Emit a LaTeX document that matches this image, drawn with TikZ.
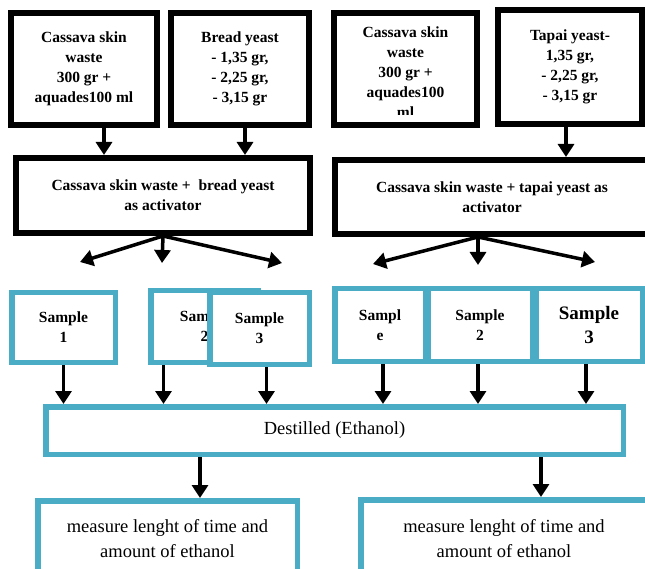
\documentclass[tikz,border=0pt]{standalone}
\usepackage{fontspec}
\setmainfont{Liberation Serif}
\usetikzlibrary{arrows.meta, positioning, calc}
\definecolor{samplecyan}{HTML}{4BACC6}

\begin{document}
\begin{tikzpicture}[
    x=1pt, y=-1pt,
    every node/.style={font=\fontsize{15.5}{20}\selectfont\bfseries},
    inputbox/.style={
        rectangle, 
        draw=black, 
        line width=6pt, 
        fill=white, 
        align=center, 
        inner sep=0pt
    },
    samplebox/.style={
        rectangle, 
        draw=samplecyan, 
        line width=5.5pt, 
        fill=white, 
        align=center, 
        inner sep=0pt, 
        minimum height=71.5pt
    },
    resultbox/.style={
        rectangle, 
        draw=samplecyan, 
        line width=5.5pt, 
        fill=white, 
        align=center, 
        inner sep=0pt, 
        font=\fontsize{18.5}{25}\selectfont
    },
    arrow/.style={
        line width=3.5pt,
        -{Triangle[length=13pt,width=16pt]}
    }
]

\useasboundingbox (0,0) rectangle (645,569);

% Inputs - bread yeast side
\node (cassL) [inputbox, minimum width=146pt, minimum height=112pt] at (84,69) {Cassava skin\\waste\\300 gr +\\aquades100 ml};
\node (yeastL) [inputbox, minimum width=138pt, minimum height=112pt] at (240,69) {Bread yeast\\- 1,35 gr,\\- 2,25 gr,\\- 3,15 gr};

% Inputs - tapai yeast side (text cut off at the bottom)
\node (cassR) [inputbox, minimum width=143pt, minimum height=112pt] at (405.5,69) {};
\begin{scope}
    \clip (cassR.center) ++(-70,-56) rectangle ++(140,102);
    \node (cassRtext) [align=center] at ($(cassR.center)+(0,3)$) {Cassava skin\\waste\\300 gr +\\aquades100\\ml};
\end{scope}
\node (yeastR) [inputbox, minimum width=144pt, minimum height=114pt] at (570,67) {Tapai yeast-\\1,35 gr,\\- 2,25 gr,\\- 3,15 gr};

% Mixtures
\node (mixL) [inputbox, minimum width=294pt, minimum height=75pt] at (163,195.5) {Cassava skin waste +\ \ bread yeast\\as activator};
\node (mixR) [inputbox, minimum width=314pt, minimum height=74pt] at (492,197) {Cassava skin waste + tapai yeast as\\activator};

% Split ends
\coordinate (spL1) at (80,262);
\coordinate (spL2) at (162,263);
\coordinate (spL3) at (282,263);
\coordinate (spR1) at (373,264);
\coordinate (spR2) at (478,265);
\coordinate (spR3) at (595,262);

% Samples - left
\node (smpL1) [samplebox, minimum width=103.5pt, minimum height=69.5pt] at (63.5,327.5) {Sample\\1};
\node (smpL2) [samplebox, minimum width=107.5pt] at (204.5,326.5) {Sample\\2};
\node (smpL3) [samplebox, minimum width=99.5pt] at (259.5,328.5) {Sample\\3};

% Samples - right
\node (smpR1) [samplebox, minimum width=90.5pt, minimum height=72.5pt] at (380,325) {Sampl\\e};
\node (smpR2) [samplebox, minimum width=104.5pt, minimum height=72.5pt] at (480,325) {Sample\\2};
\node (smpR3) [samplebox, minimum width=106.5pt, minimum height=72.5pt, font=\fontsize{19}{24}\selectfont\bfseries] at (589,325) {Sample\\3};

% Distillation and measurement
\node (dest) [resultbox, minimum width=577.5pt, minimum height=47.5pt] at (334.5,430.5) {Destilled (Ethanol)};
\node (measL) [resultbox, minimum width=259.5pt, minimum height=76.5pt] at (167.5,539) {measure lenght of time and\\amount of ethanol};
\node (measR) [resultbox, minimum width=286.5pt, minimum height=77.5pt] at (504,538.5) {measure lenght of time and\\amount of ethanol};

% Arrows - inputs to mixtures
\draw [arrow] ([xshift=20pt]cassL.south) -- ([xshift=20pt]cassL.south |- mixL.north);
\draw [arrow] ([xshift=5pt]yeastL.south) -- ([xshift=5pt]yeastL.south |- mixL.north);
\draw [arrow] ([xshift=-4pt]yeastR.south) -- ([xshift=-4pt]yeastR.south |- mixR.north);

% Arrows - split into samples
\draw [arrow] (mixL.south) -- (spL1);
\draw [arrow] (mixL.south) -- (spL2);
\draw [arrow] (mixL.south) -- (spL3);
\draw [arrow] ([xshift=-14pt]mixR.south) -- (spR1);
\draw [arrow] ([xshift=-14pt]mixR.south) -- (spR2);
\draw [arrow] ([xshift=-14pt]mixR.south) -- (spR3);

% Arrows - samples to distillation
\draw [arrow] (smpL1.south) -- (smpL1.south |- dest.north);
\draw [arrow] ([xshift=-41pt]smpL2.south) -- ([xshift=-41pt]smpL2.south |- dest.north);
\draw [arrow] ([xshift=7pt]smpL3.south) -- ([xshift=7pt]smpL3.south |- dest.north);
\draw [arrow] ([xshift=3pt]smpR1.south) -- ([xshift=3pt]smpR1.south |- dest.north);
\draw [arrow] ([xshift=-2pt]smpR2.south) -- ([xshift=-2pt]smpR2.south |- dest.north);
\draw [arrow] ([xshift=-3pt]smpR3.south) -- ([xshift=-3pt]smpR3.south |- dest.north);

% Arrows - distillation to measurement
\draw [arrow] ([xshift=32.5pt]measL.north |- dest.south) -- ([xshift=32.5pt]measL.north);
\draw [arrow] ([xshift=37pt]measR.north |- dest.south) -- ([xshift=37pt]measR.north);

\end{tikzpicture}
\end{document}
